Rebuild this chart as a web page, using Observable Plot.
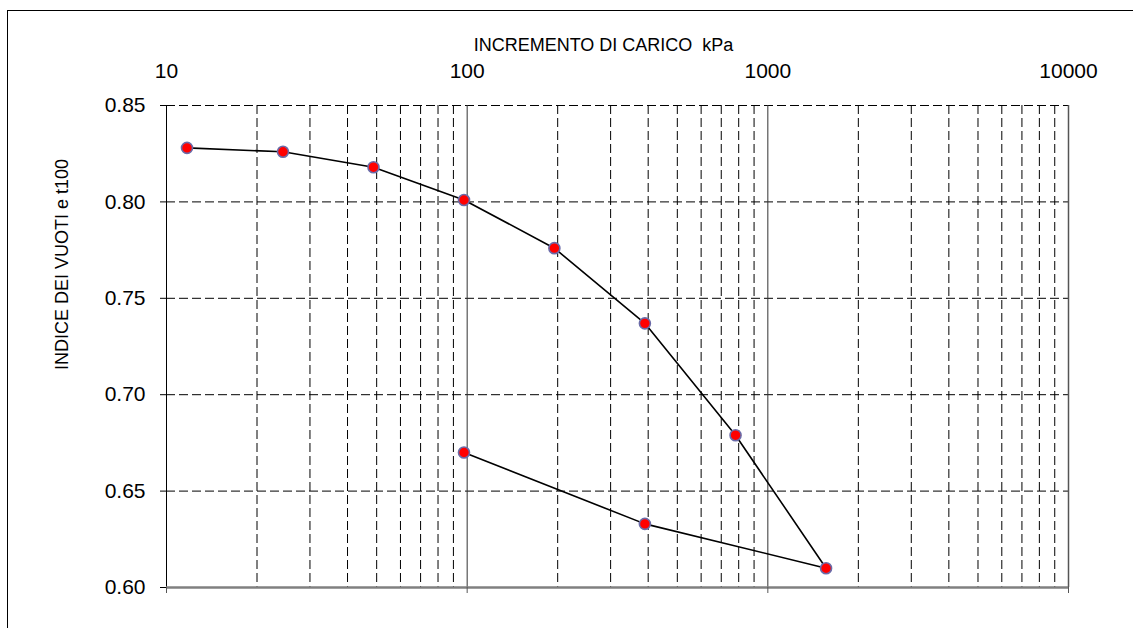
<!DOCTYPE html>
<html><head><meta charset="utf-8">
<script src="https://cdn.jsdelivr.net/npm/d3@7"></script>
<script src="https://cdn.jsdelivr.net/npm/@observablehq/plot@0.6"></script>
<style>
html,body{margin:0;padding:0;background:#fff;overflow:hidden;width:1133px;height:628px}
#wrap{position:relative;width:1133px;height:628px}
#frame{position:absolute;left:7px;top:10px;width:1200px;height:700px;border-left:1.5px solid #000;border-top:1.5px solid #000;pointer-events:none}
#chart{position:absolute;left:0;top:0}
</style></head>
<body><div id="wrap"><div id="frame"></div><div id="chart"></div></div>
<script>
// Data
const load = [11.7, 24.4, 48.8, 97.6, 195, 390, 781, 1562, 390, 97.6];        // kPa
const voidRatio = [0.828, 0.826, 0.818, 0.801, 0.776, 0.737, 0.679, 0.610, 0.633, 0.670];
const majorTicks = [10, 100, 1000, 10000];
const minorTicks = [20, 30, 40, 50, 60, 70, 80, 90, 200, 300, 400, 500, 600, 700, 800, 900, 2000, 3000, 4000, 5000, 6000, 7000, 8000, 9000];
const yTicks = [0.60, 0.65, 0.70, 0.75, 0.80, 0.85];
const yGrid = [0.65, 0.70, 0.75, 0.80, 0.85];
const xTitle = "INCREMENTO DI CARICO  kPa";
const yTitle = "INDICE DEI VUOTI e t100";

const data = load.map((x, i) => ({x, y: voidRatio[i], i}));
const font = "'Liberation Sans', Arial, sans-serif";
const dash = "9,4";

const chart = Plot.plot({
  width: 1133,
  height: 628,
  marginLeft: 166,
  marginRight: 65,
  marginTop: 105,
  marginBottom: 41,
  style: {fontFamily: font, background: "transparent", overflow: "visible"},
  x: {type: "log", domain: [10, 10000]},
  y: {domain: [0.60, 0.85]},
  marks: [
    Plot.ruleX(minorTicks, {stroke: "#000", strokeWidth: 1, strokeDasharray: dash}),
    Plot.ruleY(yGrid, {stroke: "#000", strokeWidth: 1, strokeDasharray: dash}),
    Plot.ruleX([100, 1000], {stroke: "#333", strokeWidth: 1}),
    Plot.ruleX([10000], {stroke: "#555", strokeWidth: 1.5}),
    Plot.ruleX([10], {stroke: "#000", strokeWidth: 1}),
    Plot.ruleY([0.60], {stroke: "#808080", strokeWidth: 2.5}),
    Plot.axisX({anchor: "bottom", ticks: majorTicks, tickSize: 6, tickFormat: () => "", stroke: "#555", label: null}),
    Plot.axisX({anchor: "top", ticks: majorTicks, tickSize: 0, tickPadding: 28, tickFormat: d => String(d), fontSize: 21, fill: "#000", label: null}),
    Plot.axisY({anchor: "left", ticks: yTicks, tickSize: 6, tickPadding: 15, tickFormat: d => d.toFixed(2), fontSize: 21, fill: "#000", label: null}),
    Plot.line(data, {x: "x", y: "y", stroke: "#000", strokeWidth: 1.6}),
    Plot.dot(data, {x: "x", y: "y", r: 5.5, fill: "#ff0000", stroke: "#6b6ba8", strokeWidth: 1.6}),
    Plot.text([xTitle], {frameAnchor: "top", dy: -60, dx: -14, fontSize: 18, fill: "#000", lineAnchor: "middle", textAnchor: "middle"}),
    Plot.text([yTitle], {frameAnchor: "left", dx: -104, dy: -82, rotate: -90, fontSize: 18, fill: "#000", lineAnchor: "middle", textAnchor: "middle"})
  ]
});
document.getElementById("chart").appendChild(chart);
</script>
</body></html>
